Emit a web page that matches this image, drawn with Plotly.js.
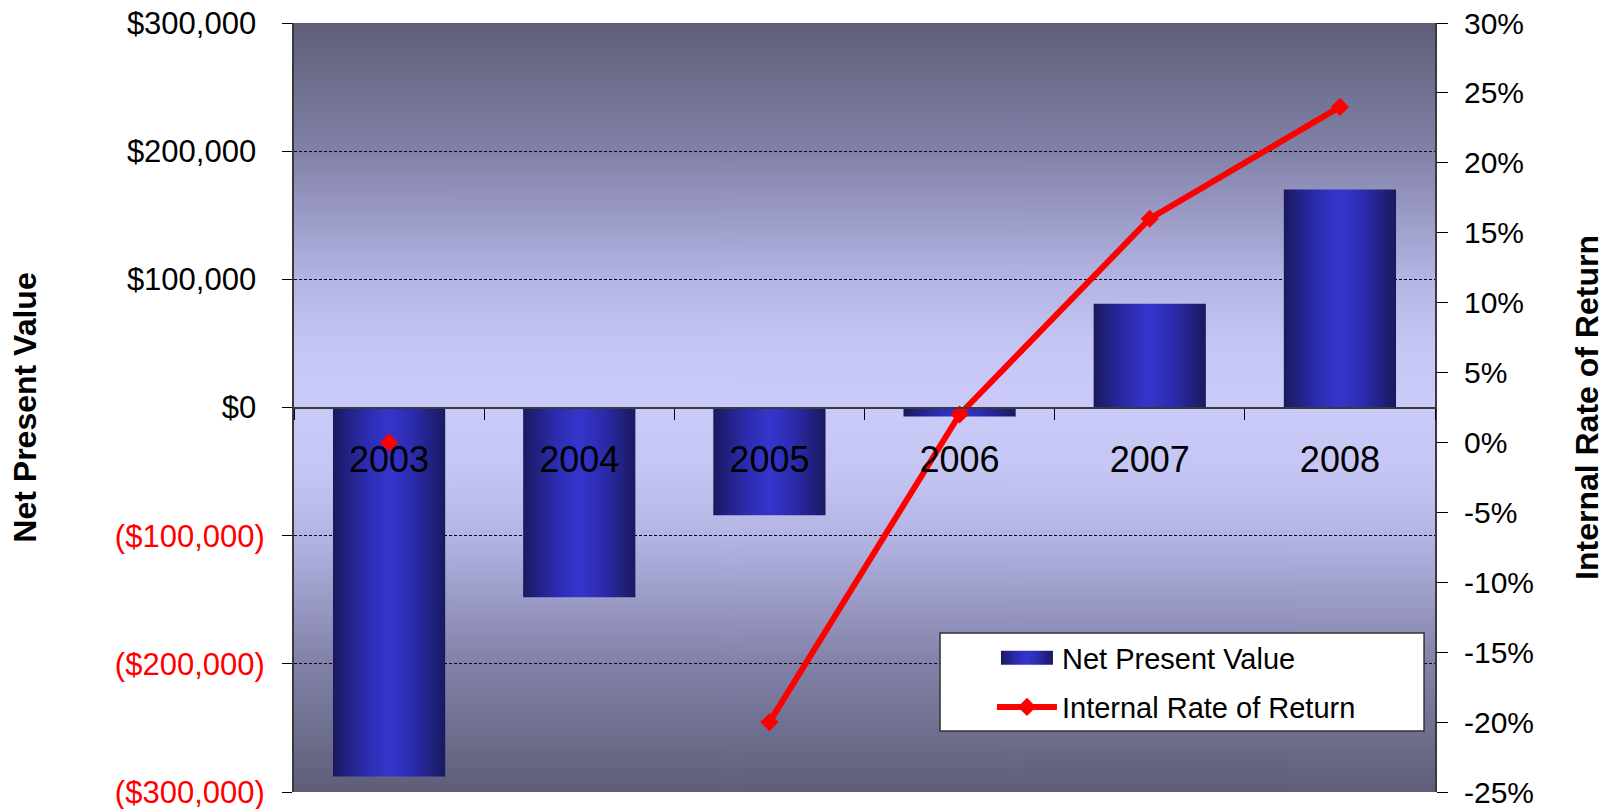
<!DOCTYPE html>
<html>
<head>
<meta charset="utf-8">
<script src="https://cdn.plot.ly/plotly-3.0.1.min.js"></script>
<style>
html,body{margin:0;padding:0;background:#fff;}
#chart{width:1612px;height:809px;}
</style>
</head>
<body>
<div id="chart"></div>
<script>
// ---------------- data ----------------
var years = ['2003', '2004', '2005', '2006', '2007', '2008'];
var npvValues = [-288000, -148000, -84000, -7000, 81000, 170000];
var irrValues = [0, null, -20, 2, 16, 24];

var npvTickVals = [-300000, -200000, -100000, 0, 100000, 200000, 300000];
var npvTickText = ['($300,000)', '($200,000)', '($100,000)', '$0', '$100,000', '$200,000', '$300,000'];
var irrTickVals = [-25, -20, -15, -10, -5, 0, 5, 10, 15, 20, 25, 30];
var irrTickText = ['-25%', '-20%', '-15%', '-10%', '-5%', '0%', '5%', '10%', '15%', '20%', '25%', '30%'];

// ---------------- styling helpers ----------------
var FONT = 'Liberation Sans, Arial, sans-serif';
var AXIS_LINE = '#3a3a3a';

var leftTickText = npvTickText.map(function (t, i) {
  return npvTickVals[i] < 0 ? '<span style="color:#ff0000">' + t + '</span>' : t + '\u00A0';
});

// background gradient image for the plot area
function bgGradient() {
  var c = document.createElement('canvas');
  c.width = 4; c.height = 512;
  var ctx = c.getContext('2d');
  var g = ctx.createLinearGradient(0, 0, 0, 512);
  g.addColorStop(0.00, '#5e5e78');
  g.addColorStop(0.18, '#8585ad');
  g.addColorStop(0.33, '#b4b4e4');
  g.addColorStop(0.42, '#c6c6f4');
  g.addColorStop(0.50, '#cbcbfa');
  g.addColorStop(0.58, '#c6c6f4');
  g.addColorStop(0.67, '#b4b4e4');
  g.addColorStop(0.82, '#8585ad');
  g.addColorStop(1.00, '#5e5e78');
  ctx.fillStyle = g;
  ctx.fillRect(0, 0, 4, 512);
  return c.toDataURL('image/png');
}

var catAxisBase = {
  type: 'category',
  categoryorder: 'array',
  categoryarray: years,
  range: [-0.5, 5.5],
  tickson: 'boundaries',
  showgrid: false,
  zeroline: false,
  fixedrange: true
};

var data = [
  {
    type: 'bar',
    name: 'Net Present Value',
    x: years,
    y: npvValues,
    xaxis: 'x',
    yaxis: 'y',
    width: 0.59,
    marker: { color: '#3333cc', line: { width: 0 } },
    legend: 'legend',
    hoverinfo: 'none'
  },
  {
    type: 'scatter',
    mode: 'lines+markers',
    name: 'Internal Rate of Return',
    x: years,
    y: irrValues,
    xaxis: 'x',
    yaxis: 'y2',
    connectgaps: false,
    line: { color: '#ff0000', width: 6 },
    marker: { symbol: 'diamond', size: 14, color: '#ff0000' },
    legend: 'legend2',
    hoverinfo: 'none'
  }
];

var layout = {
  width: 1612,
  height: 809,
  margin: { l: 294, r: 177, t: 23, b: 17, pad: 0 },
  paper_bgcolor: '#ffffff',
  plot_bgcolor: 'rgba(0,0,0,0)',
  font: { family: FONT, color: '#000000', size: 30 },
  barmode: 'overlay',
  showlegend: true,
  xaxis: Object.assign({}, catAxisBase, {
    anchor: 'free',
    position: 0.5,
    side: 'bottom',
    showline: true,
    linecolor: AXIS_LINE,
    linewidth: 2,
    ticks: 'outside',
    ticklen: 11,
    tickcolor: '#000',
    tickwidth: 1,
    ticklabelstandoff: 20,
    tickfont: { family: FONT, size: 36, color: '#000' }
  }),
  xaxis3: Object.assign({}, catAxisBase, {
    overlaying: 'x',
    anchor: 'free',
    position: 0.5,
    side: 'bottom',
    showline: false,
    ticks: 'inside',
    ticklen: 11,
    tickcolor: '#000',
    tickwidth: 1,
    showticklabels: false
  }),
  xaxis2: Object.assign({}, catAxisBase, {
    overlaying: 'x',
    anchor: 'y',
    side: 'top',
    showline: true,
    linecolor: AXIS_LINE,
    linewidth: 2,
    ticks: 'outside',
    ticklen: 8,
    tickcolor: '#000',
    tickwidth: 1,
    showticklabels: false
  }),
  xaxis4: Object.assign({}, catAxisBase, {
    overlaying: 'x',
    anchor: 'y',
    side: 'top',
    showline: false,
    ticks: 'inside',
    ticklen: 8,
    tickcolor: '#000',
    tickwidth: 1,
    showticklabels: false
  }),
  yaxis: {
    range: [-300000, 300000],
    tickmode: 'array',
    tickvals: npvTickVals,
    ticktext: leftTickText,
    showline: true,
    linecolor: AXIS_LINE,
    linewidth: 2,
    ticks: 'outside',
    ticklen: 10,
    tickcolor: '#000',
    tickwidth: 1,
    ticklabelstandoff: 11,
    ticklabeloverflow: 'allow',
    tickfont: { family: FONT, size: 31, color: '#000' },
    showgrid: true,
    gridcolor: '#000000',
    gridwidth: 1,
    griddash: '3px,2px',
    zeroline: false,
    fixedrange: true,
    title: { text: 'Net Present Value', font: { family: FONT, size: 32, color: '#000', weight: 'bold' }, standoff: 69 }
  },
  yaxis2: {
    overlaying: 'y',
    side: 'right',
    anchor: 'x',
    range: [-25, 30],
    tickmode: 'array',
    tickvals: irrTickVals,
    ticktext: irrTickText,
    showline: true,
    linecolor: AXIS_LINE,
    linewidth: 2,
    ticks: 'outside',
    ticklen: 11,
    tickcolor: '#000',
    tickwidth: 1,
    ticklabelstandoff: 10,
    ticklabeloverflow: 'allow',
    tickfont: { family: FONT, size: 30, color: '#000' },
    showgrid: false,
    zeroline: false,
    fixedrange: true,
    title: { text: 'Internal Rate of Return', font: { family: FONT, size: 32, color: '#000', weight: 'bold' }, standoff: 43 }
  },
  yaxis3: {
    overlaying: 'y',
    side: 'right',
    anchor: 'x',
    range: [-25, 30],
    tickmode: 'array',
    tickvals: irrTickVals,
    showline: false,
    ticks: 'inside',
    ticklen: 11,
    tickcolor: '#000',
    tickwidth: 1,
    showticklabels: false,
    showgrid: false,
    zeroline: false,
    fixedrange: true
  },
  legend: {
    x: 0.6117, xanchor: 'left', xref: 'paper',
    y: 0.1743, yanchor: 'middle', yref: 'paper',
    bgcolor: 'rgba(0,0,0,0)', borderwidth: 0,
    itemwidth: 60,
    font: { family: FONT, size: 29, color: '#000' }
  },
  legend2: {
    x: 0.6117, xanchor: 'left', xref: 'paper',
    y: 0.1105, yanchor: 'middle', yref: 'paper',
    bgcolor: 'rgba(0,0,0,0)', borderwidth: 0,
    itemwidth: 60,
    font: { family: FONT, size: 29, color: '#000' }
  },
  images: [{
    source: bgGradient(),
    xref: 'paper', yref: 'paper',
    x: 0, y: 1, sizex: 1, sizey: 1,
    xanchor: 'left', yanchor: 'top',
    sizing: 'stretch',
    layer: 'below'
  }],
  shapes: [{
    type: 'rect', xref: 'paper', yref: 'paper',
    x0: 0.5662, x1: 0.9904, y0: 0.0793, y1: 0.2068,
    fillcolor: '#ffffff',
    line: { color: '#333333', width: 1.5 },
    layer: 'above'
  }]
};

var gd = document.getElementById('chart');

function applyGradients() {
  var ns = 'http://www.w3.org/2000/svg';
  if (!document.getElementById('barGrad')) {
    var svg = gd.querySelector('svg.main-svg');
    var defs = svg.querySelector('defs') || svg.insertBefore(document.createElementNS(ns, 'defs'), svg.firstChild);
    var lg = document.createElementNS(ns, 'linearGradient');
    lg.setAttribute('id', 'barGrad');
    lg.setAttribute('x1', '0'); lg.setAttribute('y1', '0');
    lg.setAttribute('x2', '1'); lg.setAttribute('y2', '0');
    [['0', '#191960'], ['0.3', '#2c2cb0'], ['0.5', '#3535cd'], ['0.7', '#2c2cb0'], ['1', '#191960']].forEach(function (s) {
      var st = document.createElementNS(ns, 'stop');
      st.setAttribute('offset', s[0]);
      st.setAttribute('stop-color', s[1]);
      lg.appendChild(st);
    });
    defs.appendChild(lg);
  }
  gd.querySelectorAll('.barlayer .point path').forEach(function (p) { p.style.fill = 'url(#barGrad)'; });
  gd.querySelectorAll('g.legendpoints path').forEach(function (p) {
    var cls = p.getAttribute('class') || '';
    if (cls.indexOf('legendundefined') >= 0 || cls.indexOf('legendbar') >= 0) {
      p.setAttribute('d', 'M26,7H-26V-7H26Z');
      p.style.fill = 'url(#barGrad)';
    }
  });
}

Plotly.newPlot(gd, data, layout, { staticPlot: true, displayModeBar: false }).then(function () {
  applyGradients();
  setTimeout(applyGradients, 50);
});
</script>
</body>
</html>
